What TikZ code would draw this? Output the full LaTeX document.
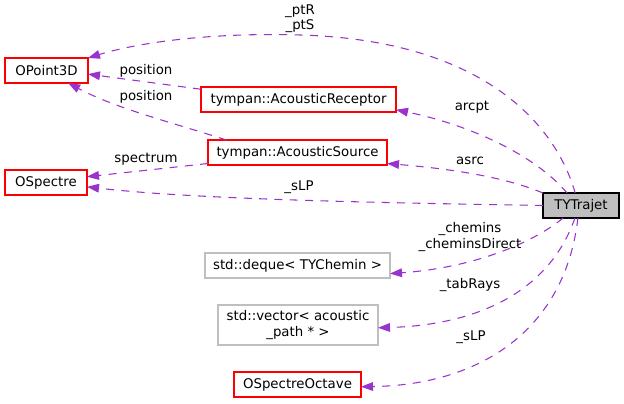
\documentclass[tikz,border=0pt]{standalone}
\usepackage{fontspec}
\setmainfont{DejaVu Sans}
\usetikzlibrary{arrows.meta}
\definecolor{edgec}{HTML}{9A32CD}
\definecolor{redb}{HTML}{FF0000}
\definecolor{grayb}{HTML}{BFBFBF}
\begin{document}
\begin{tikzpicture}[x=0.75pt,y=-0.75pt,
  every node/.style={font=\fontsize{10}{11.5}\selectfont, inner sep=0pt, outer sep=0pt},
  box/.style={rectangle, line width=0.9pt, minimum height=18.75pt, align=center},
  redbox/.style={box, draw=redb},
  graybox/.style={box, draw=grayb},
  mainbox/.style={box, draw=black, fill=grayb},
  edge/.style={draw=edgec, line width=0.8pt, dash pattern=on 6pt off 5.5pt,
    -{Triangle[length=9pt,width=6.5pt]}},
  lbl/.style={align=center, text=black}]
\useasboundingbox (0,0) rectangle (624,403);
% nodes
\node[redbox, minimum width=62.25pt] (opoint) at (46.5,70.5) {OPoint3D};
\node[redbox, minimum width=61.5pt] (ospec) at (46,182.5) {OSpectre};
\node[redbox, minimum width=146.25pt] (rec) at (298.5,99.5) {tympan::AcousticReceptor};
\node[redbox, minimum width=134.25pt] (src) at (297.5,152.5) {tympan::AcousticSource};
\node[mainbox, minimum width=57pt] (tyt) at (581,205.5) {TYTrajet};
\node[graybox, minimum width=138.75pt] (deque) at (297.5,265.5) {std::deque\textless{} TYChemin \textgreater{}};
\node[graybox, minimum width=120pt, minimum height=30pt] (vec) at (298,325) {std::vector\textless{} acoustic\\\_path * \textgreater{}};
\node[redbox, minimum width=95.25pt] (oct) at (297.5,384.5) {OSpectreOctave};
% edges
\draw[edge] (tyt.115) .. controls (555,122) and (480,40) .. (300,35)
  .. controls (200,32) and (130,45) .. (opoint.north east);
\draw[edge] (tyt.138) .. controls (535,155) and (470,125) .. (rec.-6);
\draw[edge] (tyt.north west) .. controls (500,175) and (440,168) .. (src.-7);
\draw[edge] (tyt.west) .. controls (400,203) and (200,200) .. (ospec.-6);
\draw[edge] (rec.174) -- (opoint.-5);
\draw[edge] (src.170) .. controls (170,122) and (115,108) .. (opoint.-30);
\draw[edge] (src.187) -- (ospec.8);
\draw[edge] (tyt.215) .. controls (530,245) and (470,268) .. (deque.-5);
\draw[edge] (tyt.244) .. controls (550,290) and (480,325) .. (vec.-2);
\draw[edge] (tyt.256) .. controls (565,330) and (480,385) .. (oct.-2);
% labels
\node[lbl] (l1) at (300,19) {\_ptR\\\_ptS};
\node[lbl] (l2) at (146,71) {position};
\node[lbl] (l3) at (146,97) {position};
\node[lbl] (l4) at (146,159) {spectrum};
\node[lbl] (l5) at (299,187) {\_sLP};
\node[lbl] (l6) at (472,107) {arcpt};
\node[lbl] (l7) at (470,161) {asrc};
\node[lbl] (l8) at (470,237) {\_chemins\\\_cheminsDirect};
\node[lbl] (l9) at (470,285) {\_tabRays};
\node[lbl] (l10) at (471,337) {\_sLP};
\end{tikzpicture}
\end{document}
